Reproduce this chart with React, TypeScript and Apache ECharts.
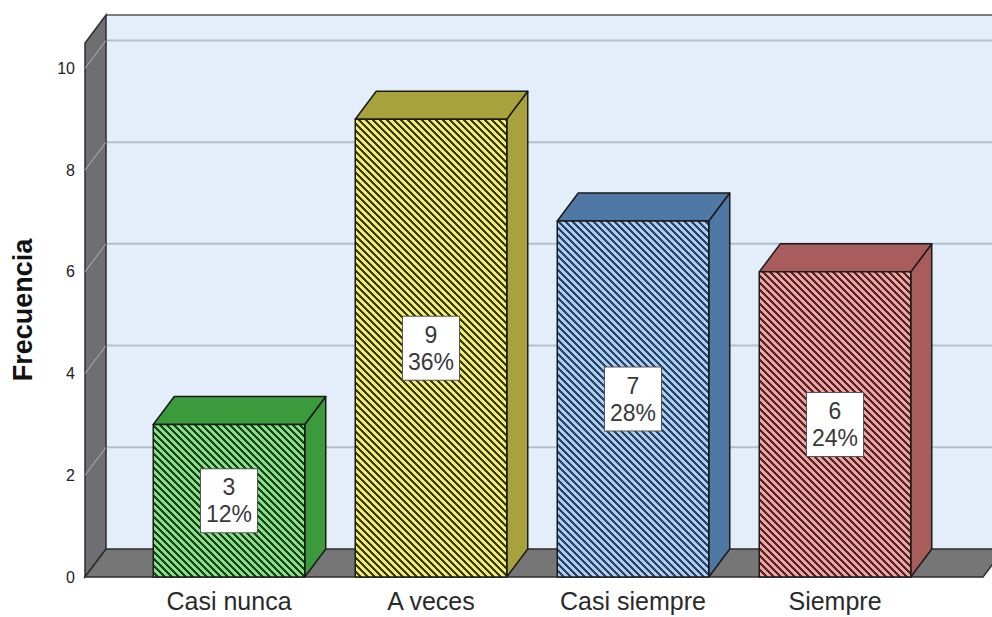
import React, { useEffect, useRef } from "react";
import * as echarts from "echarts";

// Frequency table
const categories = ["Casi nunca", "A veces", "Casi siempre", "Siempre"];
const frequencies = [3, 9, 7, 6];
const percents = [12, 36, 28, 24];
const yTicks = [0, 2, 4, 6, 8, 10];
const yMax = 10.5;

// Per-bar palette: light stripe, dark stripe, solid side/top
const stripeLight = ["#86e086", "#f0ec70", "#abcdf2", "#f2a0a0"];
const stripeDark = ["#1d3f1d", "#3b3a16", "#2b4363", "#4a2828"];
const sideColors = ["#3b9a3b", "#a8a23c", "#4f78a5", "#a85c5c"];

const FONT = '"Liberation Sans", Arial, sans-serif';
// 3D depth offset of the extruded bars and walls
const DX = 21;
const DY = -28;

function stripeTile(light: string, dark: string, n = 7, w = 3): string {
  const c = document.createElement("canvas");
  c.width = n;
  c.height = n;
  const ctx = c.getContext("2d")!;
  ctx.fillStyle = light;
  ctx.fillRect(0, 0, n, n);
  ctx.fillStyle = dark;
  for (let y = 0; y < n; y++) {
    for (let x = 0; x < n; x++) {
      if ((((x - y) % n) + n) % n < w) ctx.fillRect(x, y, 1, 1);
    }
  }
  return c.toDataURL();
}

export default function App() {
  const ref = useRef<HTMLDivElement>(null);

  useEffect(() => {
    const chart = echarts.init(ref.current!, null, { renderer: "svg" });
    const tiles = stripeLight.map((l, i) => stripeTile(l, stripeDark[i]));

    const wallsRender = (params: any, api: any) => {
      const cs = params.coordSys;
      const y0 = api.coord([0, 0])[1];
      const yTop = api.coord([0, yMax])[1];
      const xl = cs.x - 43;
      const xr = cs.x + cs.width + 47;
      const children: any[] = [];
      // back wall
      children.push({
        type: "rect",
        shape: { x: xl + DX, y: yTop + DY, width: xr - xl + 40, height: y0 - yTop },
        style: { fill: "#e3eefa", stroke: null },
      });
      children.push({
        type: "line",
        shape: { x1: xl + DX, y1: yTop + DY, x2: xr + 60, y2: yTop + DY },
        style: { stroke: "#555", lineWidth: 1.5 },
      });
      // grid lines on back wall
      yTicks.forEach((t) => {
        if (t === 0) return;
        const y = api.coord([0, t])[1];
        children.push({
          type: "line",
          shape: { x1: xl + DX, y1: y + DY, x2: xr + 60, y2: y + DY },
          style: { stroke: "#b3bfcb", lineWidth: 2 },
        });
      });
      // left wall with its tick connectors
      children.push({
        type: "polygon",
        shape: {
          points: [
            [xl, y0],
            [xl, yTop],
            [xl + DX, yTop + DY],
            [xl + DX, y0 + DY],
          ],
        },
        style: { fill: "#6f6f73", stroke: "#2e2e2e", lineWidth: 1.5 },
      });
      yTicks.forEach((t) => {
        if (t === 0) return;
        const y = api.coord([0, t])[1];
        children.push({
          type: "line",
          shape: { x1: xl, y1: y, x2: xl + DX, y2: y + DY },
          style: { stroke: "#b4b4b8", lineWidth: 1 },
        });
      });
      // floor
      children.push({
        type: "polygon",
        shape: {
          points: [
            [xl, y0],
            [xl + DX, y0 + DY],
            [xr + DX, y0 + DY],
            [xr, y0],
          ],
        },
        style: { fill: "#767676", stroke: "#2e2e2e", lineWidth: 1.5 },
      });
      return { type: "group", children };
    };

    const barsRender = (params: any, api: any) => {
      const i = api.value(0);
      const v = api.value(1);
      const idx = params.dataIndex;
      const base = api.coord([i, 0]);
      const top = api.coord([i, v]);
      const w = api.size([1, 0])[0] * 0.75;
      const x0 = base[0] - w / 2;
      const x1 = base[0] + w / 2;
      const yb = base[1];
      const yt = top[1];
      const edge = { stroke: "#1a1a1a", lineWidth: 1.5, lineJoin: "round" };
      return {
        type: "group",
        children: [
          {
            type: "polygon",
            shape: {
              points: [
                [x1, yt],
                [x1 + DX, yt + DY],
                [x1 + DX, yb + DY],
                [x1, yb],
              ],
            },
            style: { fill: sideColors[idx], ...edge },
          },
          {
            type: "polygon",
            shape: {
              points: [
                [x0, yt],
                [x0 + DX, yt + DY],
                [x1 + DX, yt + DY],
                [x1, yt],
              ],
            },
            style: { fill: sideColors[idx], ...edge },
          },
          {
            type: "rect",
            shape: { x: x0, y: yt, width: w, height: yb - yt },
            style: {
              fill: {
                image: tiles[idx],
                repeat: "repeat",
                imageWidth: 7,
                imageHeight: 7,
              },
              ...edge,
            },
          },
          {
            type: "text",
            x: base[0],
            y: (yt + yb) / 2,
            style: {
              text: `${v}\n${percents[idx]}%`,
              align: "center",
              verticalAlign: "middle",
              fill: "#383838",
              fontSize: 23,
              fontFamily: FONT,
              lineHeight: 27,
              backgroundColor: "#ffffff",
              borderColor: "#555",
              borderWidth: 1,
              padding: [5, 5, 4, 5],
            },
          },
        ],
      };
    };

    chart.setOption({
      animation: false,
      backgroundColor: "#ffffff",
      grid: { left: 128, right: 56, top: 43, bottom: 40, containLabel: false },
      xAxis: {
        type: "category",
        data: categories,
        axisLine: { show: false },
        axisTick: { show: false },
        axisLabel: { fontSize: 25, color: "#2a2a2a", margin: 11, fontFamily: FONT },
      },
      yAxis: {
        type: "value",
        min: 0,
        max: yMax,
        interval: 2,
        name: "Frecuencia",
        nameLocation: "middle",
        nameRotate: 90,
        nameGap: 92,
        nameTextStyle: { fontSize: 27, fontWeight: "bold", color: "#111", fontFamily: FONT },
        axisLine: { show: false },
        axisTick: { show: false },
        splitLine: { show: false },
        axisLabel: {
          margin: 53,
          fontSize: 16,
          color: "#222",
          fontFamily: FONT,
          formatter: (val: number) => (yTicks.includes(val) ? String(val) : ""),
        },
      },
      series: [
        {
          type: "custom",
          name: "walls",
          silent: true,
          z: 1,
          renderItem: wallsRender,
          data: [[0, 0]],
          encode: { x: 0, y: 1 },
        },
        {
          type: "custom",
          name: "Frecuencia",
          z: 2,
          renderItem: barsRender,
          data: frequencies.map((f, i) => [i, f]),
          encode: { x: 0, y: 1 },
        },
      ],
    });
    return () => chart.dispose();
  }, []);

  return (
    <div
      ref={ref}
      style={{ position: "fixed", left: 0, top: 0, width: 992, height: 617 }}
    />
  );
}
